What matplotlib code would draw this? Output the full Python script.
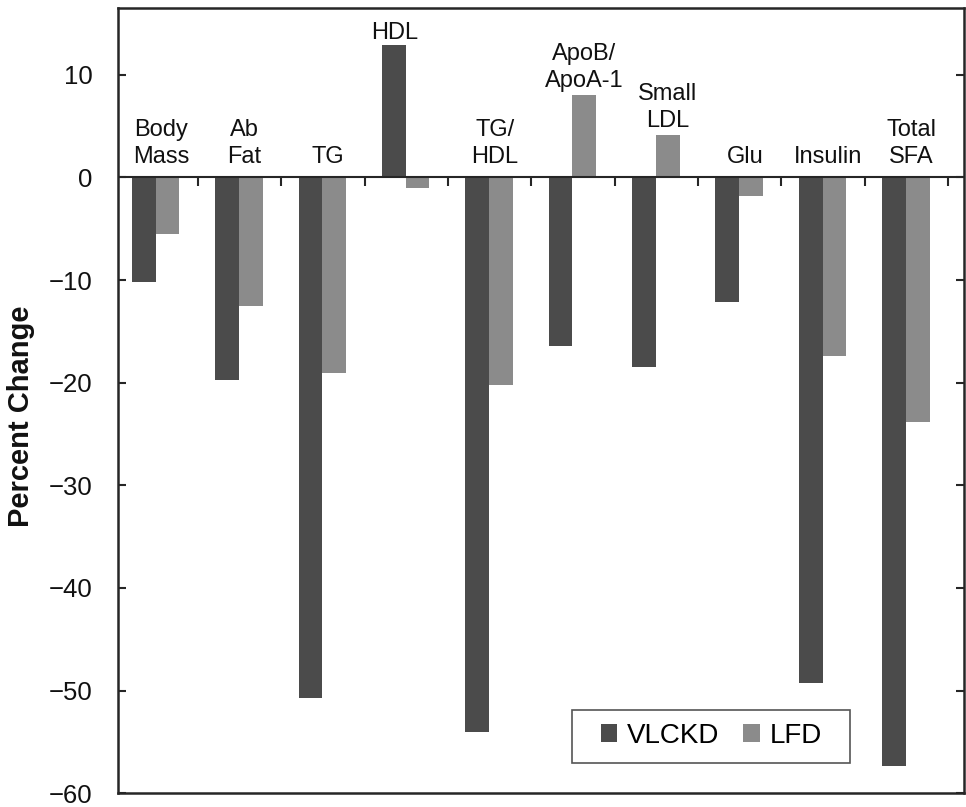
import numpy as np
import matplotlib
matplotlib.use("Agg")
import matplotlib.pyplot as plt
from matplotlib.patches import Rectangle

plt.rcParams['font.family'] = ['Liberation Sans', 'DejaVu Sans']

# values (percent change)
categories = ['Body\nMass', 'Ab\nFat', 'TG', 'HDL', 'TG/\nHDL', 'ApoB/\nApoA-1',
              'Small\nLDL', 'Glu', 'Insulin', 'Total\nSFA']
vlckd = [-10.2, -19.7, -50.7, 12.9, -54.0, -16.4, -18.5, -12.1, -49.3, -57.3]
lfd = [-5.5, -12.5, -19.1, -1.0, -20.2, 8.0, 4.1, -1.8, -17.4, -23.8]
series_names = ['VLCKD', 'LFD']
yticks = [-60, -50, -40, -30, -20, -10, 0, 10]

DARK = '#4b4b4b'
LIGHT = '#8b8b8b'
INK = '#262626'

fig = plt.figure(figsize=(9.66, 8.07), dpi=100)
ax = fig.add_axes([0.122, 0.017, 0.876, 0.973])

n = len(categories)
idx = np.arange(n)
w = 0.285
ax.bar(idx + 0.35, vlckd, width=w, color=DARK, label=series_names[0])
ax.bar(idx + 0.635, lfd, width=w, color=LIGHT, label=series_names[1])

# zero line and small ticks marking group boundaries
ax.axhline(0, color=INK, lw=1.5, zorder=3)
ax.vlines(idx + 1, -0.8, 0, colors=INK, lw=1.5, zorder=3)

# category labels above each group
for i, (name, a, b) in enumerate(zip(categories, vlckd, lfd)):
    if a > 0:
        x, top, gap = i + 0.36, a, 0.6
    elif b > 0:
        x, top, gap = i + 0.63, b, 0.8
    else:
        x, top, gap = i + 0.56, 0, 1.4
    ax.text(x, top + gap, name, ha='center', va='baseline', fontsize=17,
            linespacing=1.3, color='#111')

ax.set_xlim(0.04, 10.19)
ax.set_ylim(-60, 16.5)
ax.set_xticks([])
ax.set_yticks(yticks)
ax.tick_params(axis='y', direction='in', length=6, width=1.5, right=True,
               labelsize=18.5, pad=18, colors=INK, labelcolor='#111')
for s in ax.spines.values():
    s.set_linewidth(1.8)
    s.set_color(INK)

ax.set_ylabel('Percent Change', fontsize=21, fontweight='bold', color='#111')
ax.yaxis.set_label_coords(-0.098, 0.48)

# legend: no own frame, a wider plain box drawn behind it
leg = ax.legend(loc='center', bbox_to_anchor=(0.701, 0.073), ncol=2,
                fontsize=20, handlelength=0.6, handleheight=0.6,
                handletextpad=0.35, columnspacing=0.85, borderpad=0.55,
                frameon=False)
ax.add_patch(Rectangle((0.537, 0.038), 0.328, 0.068, transform=ax.transAxes,
                       facecolor='white', edgecolor='#555', lw=1.2, zorder=4))
leg.set_zorder(5)

fig.savefig('out.png', dpi=100)
